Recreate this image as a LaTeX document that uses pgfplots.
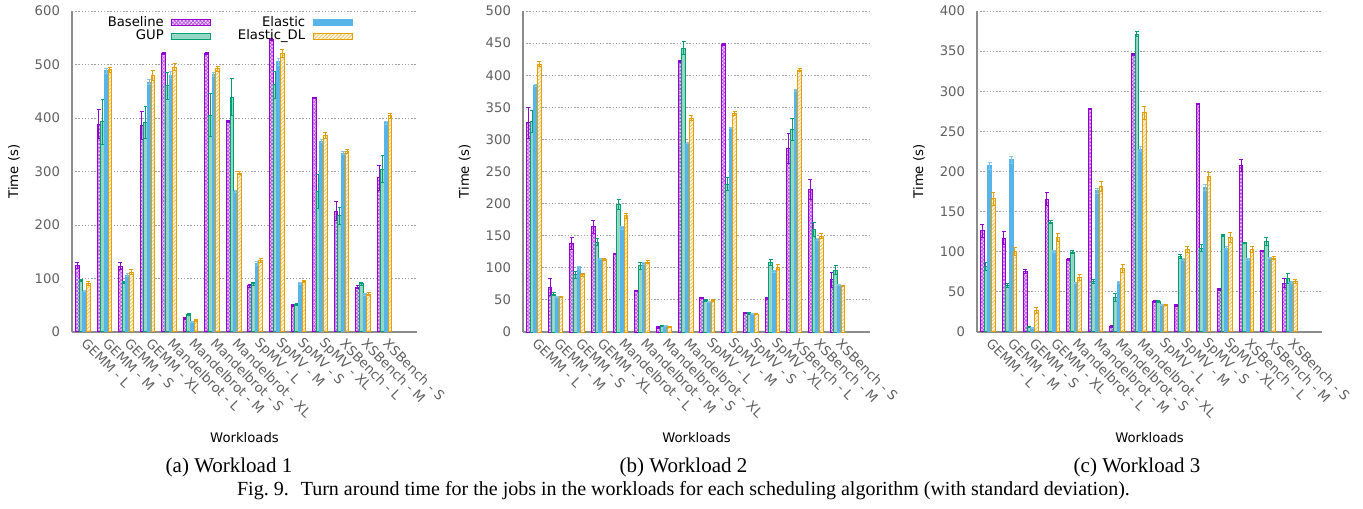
\documentclass[border=0pt]{standalone}
\usepackage{fontspec}
\setmainfont{Liberation Serif}
\newfontfamily\dejavu{DejaVu Sans}
\usepackage{pgfplots}
\usepackage{pgfplotstable}
\pgfplotsset{compat=1.18}
\usetikzlibrary{patterns.meta}

\definecolor{cbase}{HTML}{9400D3}
\definecolor{cgup}{HTML}{009E73}
\definecolor{cel}{HTML}{56B4E9}
\definecolor{cdl}{HTML}{E69F00}
\definecolor{tickgray}{HTML}{606060}
\definecolor{axisgray}{HTML}{8C8C8C}
\definecolor{gridgray}{HTML}{A0A0A0}

\newcommand\axfont{\dejavu\fontsize{6.6pt}{8pt}\selectfont}

% turnaround time (s) and standard deviation per job type
% columns: x, Baseline, GUP, Elastic, Elastic_DL (each followed by its std. dev.)
\pgfplotstableread{
x b be g ge e ee d de
0 124 5 96 2 76 1 90 4
1 388 27 393 42 488 5 490 5
2 123 6 93 2 106 3 112 4
3 386 27 392 30 467 5 480 9
4 520 2 460 25 480 6 495 6
5 26 2 32 2 19 1 21 2
6 520 2 405 40 481 4 492 5
7 393 2 439 35 263 2 297 3
8 86 2 90 3 128 3 134 4
9 546 2 462 25 505 6 521 7
10 50 2 51 2 90 2 94 2
11 438 1 263 32 357 3 367 6
12 226 18 217 16 334 3 337 4
13 84 3 90 3 70 2 71 2
14 288 24 304 25 391 3 404 4
}\wone

\pgfplotstableread{
x b be g ge e ee d de
0 326 24 328 17 384 2 417 4
1 70 13 59 2 54 1 54 1
2 138 9 89 5 100 2 89 2
3 164 10 140 6 114 1 113 2
4 122 1 199 8 162 2 181 4
5 64 1 103 5 107 2 109 3
6 7 1 9 1 9 1 8 1
7 421 2 442 10 294 1 333 4
8 53 1 49 1 47 1 49 1
9 448 2 230 10 318 1 340 3
10 30 1 29 1 28.5 1 27.5 1
11 52 1 108 5 94 2 101 4
12 286 23 316 17 376 2 408 3
13 222 15 159 11 144 1 149 4
14 81 12 96 7 73 1 72 1
}\wtwo

\pgfplotstableread{
x b be g ge e ee d de
0 126 8 82 5 207 4 166 8
1 117 8 58 2 214.5 4 100 5
2 75.5 2 6 1 5 1 26.5 4
3 165.5 8 137 2 100 1 118 5
4 90.5 1 99.6 2 61 1 68 4
5 278 1 63 3 176 3 181 6
6 7 1 43 5 61.4 1 79 5
7 345.6 1 371 3 228 3 273 8
8 37.8 1 37.8 1 33.6 1 33.6 1
9 32.8 1 94 3 90 1 103 4
10 284 1 104.6 4 180 4 194 5
11 53 1 120 1 104.6 2 118 6
12 207.5 7 111 1 90 1 103 4
13 101 1 113 5 92 1 92 2
14 61 6 67 6 61.4 1 63 2
}\wthree

\pgfplotsset{
  swatch/.style={legend image code/.code={\draw[##1] (0pt,-1.6pt) rectangle (19.5pt,1.6pt);}},
  sbase/.style={color=cbase, draw=cbase, fill=cbase!20, line width=0.5pt, bar width=0.17, bar shift=-0.255,
    postaction={pattern={Hatch[angle=45,distance=1.3pt,line width=0.3pt]}, pattern color=cbase!70},
    error bars/error bar style={color=cbase, line width=0.5pt, solid},
    error bars/error mark options={color=cbase, rotate=90, mark size=1pt, line width=0.5pt, solid}, swatch},
  sgup/.style={color=cgup, draw=cgup, fill=cgup!35, line width=0.5pt, bar width=0.17, bar shift=-0.085,
    postaction={pattern={Dots[distance=1pt,radius=0.25pt]}, pattern color=cgup!80},
    error bars/error bar style={color=cgup, line width=0.5pt, solid},
    error bars/error mark options={color=cgup, rotate=90, mark size=1pt, line width=0.5pt, solid}, swatch},
  sel/.style={color=cel, draw=cel, fill=cel, line width=0.5pt, bar width=0.17, bar shift=0.085,
    error bars/error bar style={color=cel!75, line width=0.5pt, solid},
    error bars/error mark options={color=cel!75, rotate=90, mark size=1pt, line width=0.5pt, solid}, swatch},
  sdl/.style={color=cdl, draw=cdl, fill=cdl!12, line width=0.5pt, bar width=0.17, bar shift=0.255,
    postaction={pattern={Lines[angle=45,distance=1.3pt,line width=0.3pt]}, pattern color=cdl!70},
    error bars/error bar style={color=cdl, line width=0.5pt, solid},
    error bars/error mark options={color=cdl, rotate=90, mark size=1pt, line width=0.5pt, solid}, swatch},
  wl/.style={
    ybar, scale only axis, height=160.5pt,
    ymin=0, xmin=-0.5, xmax=15.5,
    xtick={0,...,14},
    xticklabels={GEMM - L, GEMM - M, GEMM - S, GEMM - XL,
      Mandelbrot - L, Mandelbrot - M, Mandelbrot - S, Mandelbrot - XL,
      SpMV - L, SpMV - M, SpMV - S, SpMV - XL,
      XSBench - L, XSBench - M, XSBench - S},
    axis x line*=bottom, axis y line*=left,
    axis line style={draw=axisgray, line width=0.6pt, -},
    major tick length=0pt,
    ymajorgrids, major grid style={draw=gridgray, line width=0.45pt, dash pattern=on 0.7pt off 0.9pt},
    tick label style={font=\axfont, text=tickgray},
    xticklabel style={yshift=-4.5pt, xshift=0.5pt, rotate=-45, anchor=west, inner sep=0pt},
    yticklabel style={xshift=-2.5pt},
    /pgf/number format/assume math mode=true,
    xlabel={Workloads}, ylabel={Time (s)},
    every axis y label/.style={at={(axis description cs:-0.168,0.5)}, rotate=90, anchor=center, font=\axfont},
    every axis x label/.style={at={(axis description cs:0.5,-0.33)}, anchor=center, font=\axfont},
    error bars/y dir=both, error bars/y explicit,
  },
}

\begin{document}
\begin{tikzpicture}
\useasboundingbox (0,0) rectangle (681.5pt,254pt);

% Workload 1
\begin{axis}[wl, at={(36pt,88pt)}, anchor=south west, width=172.5pt,
    ymax=600, ytick={0,100,...,600},
    legend columns=2, transpose legend, legend plot pos=right, legend cell align=right,
    legend style={draw=none, fill=none, font=\axfont, at={(axis description cs:0.815,0.986)},
      anchor=north east, row sep=0pt, inner sep=0pt,
      nodes={inner sep=0.3pt, text height=4.9pt, text depth=1.3pt},
      /tikz/every odd column/.append style={column sep=3.5pt},
      /tikz/every even column/.append style={column sep=13pt}}]
  \addplot[sbase] table[x=x, y=b, y error=be] {\wone};
  \addplot[sgup] table[x=x, y=g, y error=ge] {\wone};
  \addplot[sel] table[x=x, y=e, y error=ee] {\wone};
  \addplot[sdl] table[x=x, y=d, y error=de] {\wone};
  \legend{Baseline, GUP, Elastic, Elastic\_DL}
\end{axis}

% Workload 2
\begin{axis}[wl, at={(261.5pt,88pt)}, anchor=south west, width=173.5pt,
    ymax=500, ytick={0,50,...,500}]
  \addplot[sbase] table[x=x, y=b, y error=be] {\wtwo};
  \addplot[sgup] table[x=x, y=g, y error=ge] {\wtwo};
  \addplot[sel] table[x=x, y=e, y error=ee] {\wtwo};
  \addplot[sdl] table[x=x, y=d, y error=de] {\wtwo};
\end{axis}

% Workload 3
\begin{axis}[wl, at={(488.5pt,88pt)}, anchor=south west, width=172.5pt,
    ymax=400, ytick={0,50,...,400}]
  \addplot[sbase] table[x=x, y=b, y error=be] {\wthree};
  \addplot[sgup] table[x=x, y=g, y error=ge] {\wthree};
  \addplot[sel] table[x=x, y=e, y error=ee] {\wthree};
  \addplot[sdl] table[x=x, y=d, y error=de] {\wthree};
\end{axis}

% sub-figure captions and figure caption
\node[font=\fontsize{10.5pt}{12pt}\selectfont] at (114.5pt,20.5pt) {(a) Workload 1};
\node[font=\fontsize{10.5pt}{12pt}\selectfont] at (341.75pt,20.5pt) {(b) Workload 2};
\node[font=\fontsize{10.5pt}{12pt}\selectfont] at (568.5pt,20.5pt) {(c) Workload 3};
\node[font=\fontsize{10pt}{12pt}\selectfont] at (341.75pt,8.5pt)
  {Fig.~9.\hspace{0.6em}Turn around time for the jobs in the workloads for each scheduling algorithm (with standard deviation).};
\end{tikzpicture}
\end{document}
